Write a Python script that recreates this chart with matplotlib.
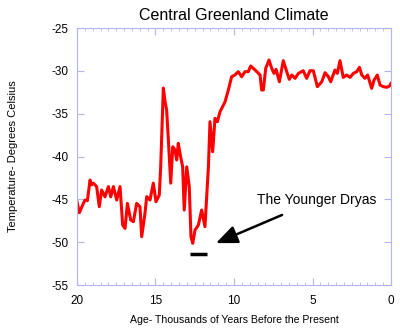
import numpy as np
import matplotlib
matplotlib.use('Agg')
import matplotlib.pyplot as plt
from matplotlib.ticker import MultipleLocator

plt.rcParams['font.family'] = ['Liberation Sans', 'DejaVu Sans']
plt.rcParams['axes.unicode_minus'] = False

# age in thousands of years before present, temperature in deg C
age = [20.0, 19.85, 19.64, 19.49, 19.34, 19.17, 19.07, 18.96, 18.75, 18.58,
       18.43, 18.22, 18.0, 17.85, 17.68, 17.47, 17.26, 17.09, 16.94, 16.79,
       16.58, 16.41, 16.2, 15.99, 15.88, 15.67, 15.56, 15.35, 15.14, 14.97,
       14.76, 14.67, 14.5, 14.39, 14.29, 14.18, 14.03, 13.9, 13.76, 13.65,
       13.55, 13.44, 13.27, 13.17, 13.01, 12.85, 12.74, 12.63, 12.48, 12.27,
       12.06, 11.85, 11.63, 11.53, 11.36, 11.21, 11.06, 10.89, 10.57, 10.36,
       10.15, 9.94, 9.73, 9.51, 9.3, 9.09, 8.94, 8.77, 8.55, 8.34,
       8.24, 8.13, 7.98, 7.77, 7.6, 7.45, 7.32, 7.11, 6.86, 6.64,
       6.48, 6.32, 6.11, 5.9, 5.59, 5.37, 5.16, 4.95, 4.69, 4.41,
       4.2, 3.99, 3.84, 3.57, 3.42, 3.25, 3.04, 2.82, 2.61, 2.4,
       2.18, 2.01, 1.86, 1.66, 1.49, 1.23, 1.08, 0.87, 0.7, 0.49,
       0.27, 0.1, 0.0]
temp = [-45.27, -46.55, -45.65, -45.07, -45.15, -42.74, -43.3, -43.1, -43.5, -45.85,
        -43.9, -44.7, -43.5, -44.7, -43.5, -45.07, -43.5, -47.99, -48.38, -45.46,
        -47.4, -47.6, -45.46, -45.85, -49.35, -46.62, -44.67, -45.07, -43.1, -45.27,
        -44.5, -41.2, -32.0, -33.6, -34.57, -38.07, -43.1, -38.85, -39.23, -40.4,
        -38.45, -39.62, -41.2, -46.24, -41.2, -43.5, -49.35, -50.12, -48.57, -47.99,
        -46.24, -48.18, -41.2, -35.93, -39.43, -35.54, -35.93, -34.77, -33.6, -32.23,
        -30.68, -30.48, -30.09, -30.68, -30.09, -30.09, -29.43, -29.7, -30.09, -30.48,
        -32.23, -32.23, -29.7, -28.73, -29.7, -30.29, -29.82, -31.27, -28.81, -30.09,
        -30.99, -30.48, -30.87, -30.29, -29.98, -30.87, -29.98, -29.98, -31.84, -31.27,
        -30.21, -30.68, -31.27, -29.9, -30.29, -28.81, -30.76, -30.48, -30.76, -30.29,
        -30.09, -29.58, -30.48, -30.87, -30.48, -32.04, -31.07, -30.48, -31.65, -31.84,
        -31.92, -31.77, -31.46]

dryas_span = [12.8, 11.7]
dryas_level = -51.4

fig = plt.figure(figsize=(4, 3.3), dpi=100)
ax = fig.add_axes([0.1925, 0.136, 0.785, 0.779])

ax.plot(age, temp, color='#ff0000', lw=2.2)
ax.plot(dryas_span, [dryas_level, dryas_level], color='black', lw=2.5, solid_capstyle='butt')

ax.annotate('The Younger Dryas', xy=(11.15, -50.1), xytext=(8.55, -45.1),
            fontsize=10, va='center', ha='left',
            arrowprops=dict(arrowstyle='-|>,head_length=1.3,head_width=0.55',
                            color='black', lw=1.8, shrinkA=9, shrinkB=0))

ax.set_xlim(20, 0)
ax.set_ylim(-55, -25)
ax.xaxis.set_major_locator(MultipleLocator(5))
ax.xaxis.set_minor_locator(MultipleLocator(0.5))
ax.yaxis.set_major_locator(MultipleLocator(5))

frame = '#b4b4f0'
for s in ax.spines.values():
    s.set_color(frame)
ax.tick_params(which='both', direction='in', top=True, right=True, color=frame, labelsize=8.5)
ax.tick_params(which='major', length=5)
ax.tick_params(which='minor', length=2.5)
ax.tick_params(axis='x', pad=7)
ax.tick_params(axis='y', pad=6)

ax.set_title('Central Greenland Climate', fontsize=11.5, pad=6)
ax.set_xlabel('Age- Thousands of Years Before the Present', fontsize=7.6, labelpad=6)
ax.set_ylabel('Temperature- Degrees Celsius', fontsize=8, labelpad=24)

fig.savefig('out.png', dpi=100)
